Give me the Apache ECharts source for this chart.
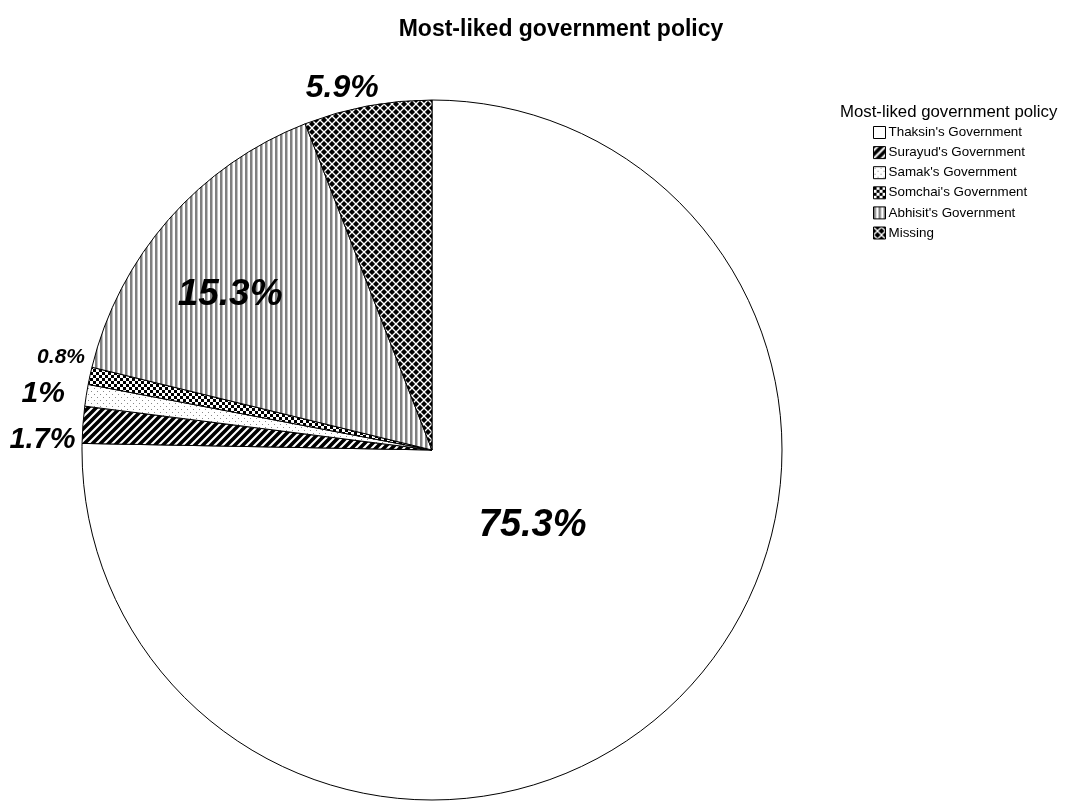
<!DOCTYPE html>
<html>
<head>
<meta charset="utf-8">
<script src="https://cdn.jsdelivr.net/npm/echarts@6/dist/echarts.min.js"></script>
<style>html,body{margin:0;padding:0;background:#fff}#c{width:1086px;height:803px}</style>
</head>
<body>
<div id="c"></div>
<script>
const titleText = "Most-liked government policy";
const legendTitle = "Most-liked government policy";
const categories = ["Thaksin's Government", "Surayud's Government", "Samak's Government", "Somchai's Government", "Abhisit's Government", "Missing"];
const percents = [75.3, 1.7, 1, 0.8, 15.3, 5.9];

// style-only arrays
const labelSizes = [38, 29, 30, 21, 37, 32];
const labelOffsets = [[-24, -52], [-212, 3], [-213, -28], [-197, -55], [-68, -38], [-57, -187]];

function pat(size, draw) {
  const c = document.createElement('canvas');
  c.width = c.height = size;
  const g = c.getContext('2d');
  draw(g, size);
  return { image: c, repeat: 'repeat' };
}
const fills = [
  '#ffffff',
  pat(8, (g, s) => {
    g.fillStyle = '#fff'; g.fillRect(0, 0, s, s);
    g.strokeStyle = '#000'; g.lineWidth = 3.6; g.lineCap = 'square';
    [[-s, s, 0, 0], [0, s, s, 0], [0, 2 * s, 2 * s, 0]].forEach(([x1, y1, x2, y2]) => {
      g.beginPath(); g.moveTo(x1, y1); g.lineTo(x2, y2); g.stroke();
    });
  }),
  pat(6, (g, s) => {
    g.fillStyle = '#fff'; g.fillRect(0, 0, s, s);
    g.fillStyle = '#888'; g.fillRect(1, 1, 1, 1); g.fillRect(4, 4, 1, 1);
  }),
  pat(6, (g, s) => {
    g.fillStyle = '#fff'; g.fillRect(0, 0, s, s);
    g.fillStyle = '#000'; g.fillRect(0, 0, 3, 3); g.fillRect(3, 3, 3, 3);
  }),
  pat(5, (g, s) => {
    g.fillStyle = '#fff'; g.fillRect(0, 0, s, s);
    g.fillStyle = '#808080'; g.fillRect(0, 0, 2, s);
    g.fillStyle = '#c0c0c0'; g.fillRect(2, 0, 1, s);
  }),
  pat(8, (g, s) => {
    g.fillStyle = '#000'; g.fillRect(0, 0, s, s);
    g.strokeStyle = '#fff'; g.lineWidth = 1.3;
    [[0, 0, s, s], [0, s, s, 0], [-s, 0, s, 2*s], [0, -s, 2*s, s], [-s, s, s, -s], [0, 2*s, 2*s, 0]].forEach(([x1, y1, x2, y2]) => {
      g.beginPath(); g.moveTo(x1, y1); g.lineTo(x2, y2); g.stroke();
    });
  })
];

const FONT = '"Liberation Sans", Arial, sans-serif';
const data = categories.map((name, i) => ({
  name: name,
  value: percents[i],
  itemStyle: { color: fills[i], borderColor: '#000', borderWidth: 1 },
  label: {
    show: true, position: 'inside',
    fontSize: labelSizes[i], offset: labelOffsets[i]
  }
}));

const chart = echarts.init(document.getElementById('c'), null, { renderer: 'canvas' });
chart.setOption({
  animation: false,
  backgroundColor: '#fff',
  title: [
    { text: titleText, left: 556, top: 13, textAlign: 'center',
      textStyle: { fontFamily: FONT, fontSize: 23, fontWeight: 'bold', color: '#000' } },
    { text: legendTitle, left: 835, top: 99,
      textStyle: { fontFamily: FONT, fontSize: 16.8, fontWeight: 'normal', color: '#000' } }
  ],
  legend: {
    orient: 'vertical', left: 868, top: 121,
    itemWidth: 12, itemHeight: 12, itemGap: 7.1,
    icon: 'rect',
    itemStyle: { borderColor: '#000', borderWidth: 1 },
    textStyle: { fontFamily: FONT, fontSize: 13.4, color: '#000', padding: [0, 0, 0, -2] },
    data: categories
  },
  series: [{
    type: 'pie',
    center: [432, 450],
    radius: 350,
    startAngle: 90,
    clockwise: true,
    avoidLabelOverlap: false,
    emphasis: { disabled: true },
    label: {
      formatter: p => p.value + '%',
      fontFamily: FONT, fontWeight: 'bold', fontStyle: 'italic', color: '#000'
    },
    labelLine: { show: false },
    data: data
  }]
});
</script>
</body>
</html>
